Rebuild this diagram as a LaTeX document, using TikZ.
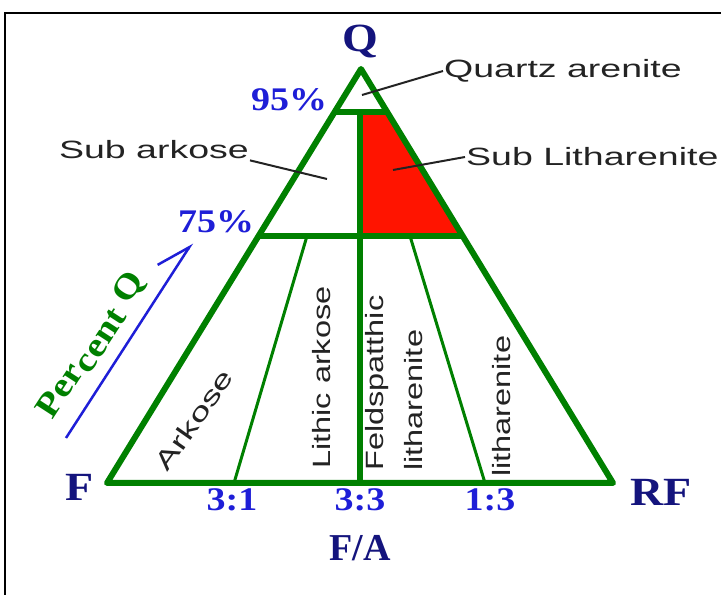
\documentclass[tikz,border=0pt]{standalone}
\usepackage{fontspec}
\setmainfont{Liberation Serif}
\newfontfamily\labelsans[FakeStretch=1.3]{Liberation Sans}
\newfontfamily\labelwide[FakeStretch=1.5]{Liberation Sans}
\newfontfamily\labelserif[FakeStretch=1.15]{Liberation Serif}
\usetikzlibrary{arrows.meta}

\definecolor{qfgreen}{RGB}{0,128,0}
\definecolor{qfnavy}{RGB}{20,20,125}
\definecolor{qfblue}{RGB}{30,30,215}
\definecolor{qfred}{RGB}{255,20,0}
\definecolor{qftext}{RGB}{35,35,35}

\tikzset{
  edge/.style={qfgreen, line width=6pt, line join=round},
  split/.style={qfgreen, line width=3pt},
  leader/.style={qftext, line width=2pt},
  corner/.style={font=\labelserif\fontsize{40}{44}\selectfont\bfseries, text=qfnavy},
  ratio/.style={font=\labelserif\fontsize{33}{35}\selectfont\bfseries, text=qfblue},
  rock/.style={font=\labelsans\fontsize{25}{28}\selectfont, text=qftext, inner sep=1pt},
  rockwide/.style={rock, font=\labelwide\fontsize{25}{28}\selectfont},
}

\begin{document}
\begin{tikzpicture}[x=1pt,y=1pt]
\useasboundingbox (0,0) rectangle (721,595);
\draw[black, line width=2.5pt] (5,0) -- (5,582) -- (721,582);

\coordinate (qv) at (361,526);
\coordinate (fv) at (107,112);
\coordinate (rv) at (613,112);
\coordinate (q95l) at (334.6,483);
\coordinate (q95r) at (387.4,483);
\coordinate (q75l) at (259,359);
\coordinate (q75r) at (463,359);
\coordinate (mtop) at (360,483);
\coordinate (mbot) at (360,112);
\coordinate (mmid) at (360,359);
\coordinate (s31t) at (307,359);
\coordinate (s31b) at (234,112);
\coordinate (s13t) at (410,359);
\coordinate (s13b) at (485,112);

\fill[qfred] (mtop) -- (q95r) -- (q75r) -- (mmid) -- cycle;
\draw[split] (s31t) -- (s31b);
\draw[split] (s13t) -- (s13b);
\draw[edge] (q95l) -- (q95r);
\draw[edge] (q75l) -- (q75r);
\draw[edge] (mtop) -- (mbot);
\draw[edge] (qv) -- (fv) -- (rv) -- cycle;

\node[corner] (qlab) at (360,553) {Q};
\node[corner] (flab) at (80,108) {F};
\node[corner] (rflab) at (661,103) {RF};
\node[corner, font=\fontsize{38}{40}\selectfont\bfseries] (falab) at (360,47) {F/A};

\node[ratio] (p95) at (289,495) {95\%};
\node[ratio] (p75) at (216,373) {75\%};
\node[ratio] (r31) at (232,95) {3:1};
\node[ratio] (r33) at (360,95) {3:3};
\node[ratio] (r13) at (490,95) {1:3};

\node[rockwide, anchor=west] (qatext) at (443,524) {Quartz arenite};
\node[rockwide, anchor=west] (sltext) at (465,438) {Sub Litharenite};
\node[rockwide, anchor=east] (satext) at (250,445) {Sub arkose};
\coordinate (qa) at (362,500);
\coordinate (sl) at (393,425);
\coordinate (sa) at (327,416);
\draw[leader] (qa) -- (qatext.west);
\draw[leader] (sl) -- (sltext.west);
\draw[leader] (sa) -- (satext.south east);

\node[rockwide, rotate=55] (ark) at (194,175) {Arkose};
\node[rock, rotate=90, anchor=west] (lark) at (322,125) {Lithic arkose};
\node[rock, rotate=90, anchor=west] (feld) at (377,123) {Feldspatthic};
\node[rock, rotate=90, anchor=west] (flith) at (414,123) {litharenite};
\node[rock, rotate=90, anchor=west] (lith) at (502,117) {litharenite};

\node[font=\labelserif\fontsize{34}{36}\selectfont\bfseries, text=qfgreen, rotate=57] (pq) at (92,249) {Per\raisebox{-6pt}{cent} Q};
\coordinate (pqs) at (66,157);
\coordinate (pqe) at (192,352);
\draw[qfblue, line width=2.5pt, -{Straight Barb[harpoon, length=32pt, width=34pt]}] (pqs) -- (pqe);
\end{tikzpicture}
\end{document}
